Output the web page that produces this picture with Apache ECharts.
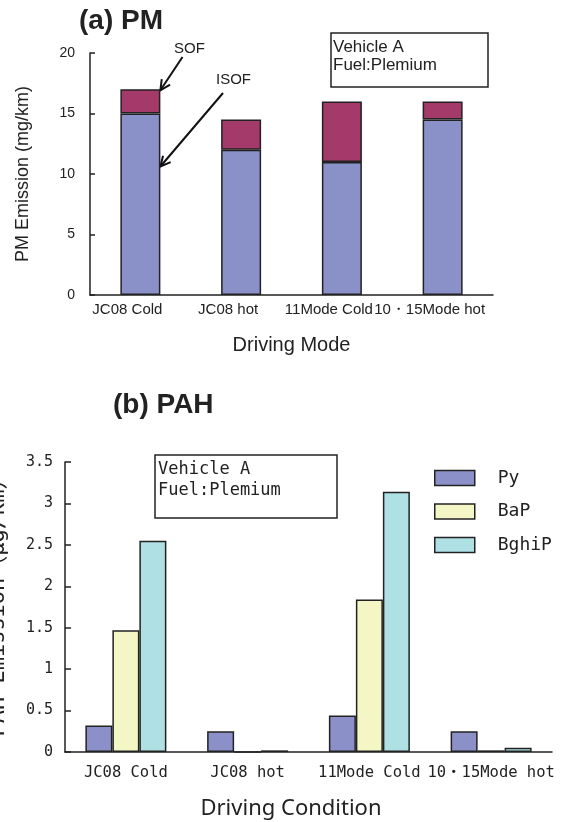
<!DOCTYPE html>
<html>
<head>
<meta charset="utf-8">
<title>PM / PAH Emission</title>
<script src="https://cdn.jsdelivr.net/npm/echarts@6/dist/echarts.min.js"></script>
<style>
  html, body { margin: 0; padding: 0; background: #fff; }
  #chart { width: 566px; height: 822px; }
</style>
</head>
<body>
<div id="chart"></div>
<script>
// (a) PM 数据
const pmModes = ['JC08 Cold', 'JC08 hot', '11Mode Cold', '10・15Mode hot']
const pmIsof = [15, 12, 11, 14.5]
const pmSof = [2, 2.5, 5, 1.5]

// (b) PAH 数据
const pahModes = ['JC08 Cold', 'JC08 hot', '11Mode Cold', '10・15Mode hot']
const pahPy = [0.32, 0.25, 0.44, 0.25]
const pahBaP = [1.47, 0, 1.84, 0.02]
const pahBghiP = [2.55, 0.02, 3.14, 0.05]

const sans = '"Liberation Sans", Arial, sans-serif'
const mono = '"DejaVu Sans Mono", "Noto Sans CJK JP", monospace'
const ink = '#222'

const barBorder = { borderColor: ink, borderWidth: 1.5 }
const axisLineStyle = { color: ink, width: 1.5 }

// 箭头（线 + V 字头）
function arrow(from, to) {
  const dx = to[0] - from[0]
  const dy = to[1] - from[1]
  const len = Math.sqrt(dx * dx + dy * dy)
  const ux = dx / len
  const uy = dy / len
  const hl = 10
  const hw = 5
  const bx = to[0] - ux * hl
  const by = to[1] - uy * hl
  return [
    {
      type: 'line',
      shape: { x1: from[0], y1: from[1], x2: to[0], y2: to[1] },
      style: { stroke: '#111', lineWidth: 2 }
    },
    {
      type: 'polyline',
      shape: { points: [[bx - uy * hw, by + ux * hw], to, [bx + uy * hw, by - ux * hw]] },
      style: { stroke: '#111', lineWidth: 2, fill: null }
    }
  ]
}

const myChart = echarts.init(document.getElementById('chart'), null, { renderer: 'canvas' })

const option = {
  animation: false,
  backgroundColor: '#fff',
  title: [
    { text: '(a) PM', left: 79, top: 7, padding: 0, textStyle: { fontFamily: sans, fontSize: 28, fontWeight: 'bold', color: ink } },
    { text: '(b) PAH', left: 113, top: 391, padding: 0, textStyle: { fontFamily: sans, fontSize: 28, fontWeight: 'bold', color: ink } }
  ],
  grid: [
    { left: 90, top: 53, width: 403, height: 242 },
    { left: 65, top: 462, width: 487, height: 290 }
  ],
  legend: {
    data: ['Py', 'BaP', 'BghiP'],
    orient: 'vertical',
    left: 429,
    top: 464,
    itemWidth: 40,
    itemHeight: 15,
    itemGap: 15.5,
    icon: 'rect',
    itemStyle: { borderColor: ink, borderWidth: 1.5 },
    textStyle: { fontFamily: mono, fontSize: 18, color: ink, padding: [0, 0, 0, 18] }
  },
  xAxis: [
    {
      gridIndex: 0,
      type: 'category',
      data: pmModes,
      axisLine: { lineStyle: axisLineStyle },
      axisTick: { inside: true, length: 5, lineStyle: axisLineStyle },
      axisLabel: { interval: 0, margin: 7, fontFamily: sans, fontSize: 15, color: ink, padding: [0, 26, 0, 0] },
      name: 'Driving Mode',
      nameLocation: 'middle',
      nameGap: 40,
      nameMoveOverlap: false,
      nameTextStyle: { fontFamily: sans, fontSize: 20, color: ink }
    },
    {
      gridIndex: 1,
      type: 'category',
      data: pahModes,
      axisLine: { lineStyle: axisLineStyle },
      axisTick: { inside: true, length: 5, lineStyle: axisLineStyle },
      axisLabel: { interval: 0, margin: 13, fontFamily: mono, fontSize: 15.5, color: ink },
      name: 'Driving Condition',
      nameLocation: 'middle',
      nameGap: 46,
      nameMoveOverlap: false,
      nameTextStyle: { fontFamily: '"Noto Sans", sans-serif', fontSize: 22, color: ink, padding: [0, 35, 0, 0] }
    }
  ],
  yAxis: [
    {
      gridIndex: 0,
      type: 'value',
      min: 0,
      max: 20,
      interval: 5,
      axisLine: { show: true, lineStyle: axisLineStyle },
      axisTick: { show: true, inside: true, length: 5, lineStyle: axisLineStyle },
      splitLine: { show: false },
      axisLabel: { margin: 15, fontFamily: sans, fontSize: 14, color: ink },
      name: 'PM Emission (mg/km)',
      nameLocation: 'middle',
      nameGap: 58,
      nameMoveOverlap: false,
      nameTextStyle: { fontFamily: sans, fontSize: 18, color: ink }
    },
    {
      gridIndex: 1,
      type: 'value',
      min: 0,
      max: 3.5,
      interval: 0.5,
      axisLine: { show: true, lineStyle: axisLineStyle },
      axisTick: { show: true, inside: true, length: 6, lineStyle: axisLineStyle },
      splitLine: { show: false },
      axisLabel: { margin: 12, fontFamily: mono, fontSize: 15, color: ink }
    }
  ],
  series: [
    // PM 堆叠柱
    {
      name: 'ISOF',
      type: 'bar',
      xAxisIndex: 0,
      yAxisIndex: 0,
      stack: 'pm',
      barWidth: 40,
      data: pmIsof,
      itemStyle: { color: '#8a91c8', ...barBorder }
    },
    {
      name: 'SOF',
      type: 'bar',
      xAxisIndex: 0,
      yAxisIndex: 0,
      stack: 'pm',
      barWidth: 40,
      data: pmSof,
      itemStyle: { color: '#a33a6a', ...barBorder }
    },
    // PAH 分组柱
    {
      name: 'Py',
      type: 'bar',
      xAxisIndex: 1,
      yAxisIndex: 1,
      barWidth: 27,
      barGap: '0%',
      data: pahPy,
      itemStyle: { color: '#8b91c8', ...barBorder }
    },
    {
      name: 'BaP',
      type: 'bar',
      xAxisIndex: 1,
      yAxisIndex: 1,
      barWidth: 27,
      barGap: '0%',
      data: pahBaP,
      itemStyle: { color: '#f4f6c6', ...barBorder }
    },
    {
      name: 'BghiP',
      type: 'bar',
      xAxisIndex: 1,
      yAxisIndex: 1,
      barWidth: 27,
      barGap: '0%',
      data: pahBghiP,
      itemStyle: { color: '#aee0e4', ...barBorder }
    }
  ]
}

myChart.setOption(option)

// 注释框 + 箭头
const sofTip = myChart.convertToPixel({ gridIndex: 0 }, [0, pmIsof[0] + pmSof[0]])
const isofTip = myChart.convertToPixel({ gridIndex: 0 }, [0, pmIsof[0]])
const barHalf = 20

myChart.setOption({
  graphic: [
    { type: 'text', left: 174, top: 41, style: { text: 'SOF', fontFamily: sans, fontSize: 15, fill: ink } },
    { type: 'text', left: 216, top: 72, style: { text: 'ISOF', fontFamily: sans, fontSize: 15, fill: ink } },
    ...arrow([182.5, 57], [sofTip[0] + barHalf, sofTip[1] + 1]),
    ...arrow([223, 93], [isofTip[0] + barHalf, isofTip[1] + 53]),
    {
      type: 'rect',
      shape: { x: 331, y: 33, width: 157, height: 54 },
      style: { fill: '#fff', stroke: ink, lineWidth: 1.5 }
    },
    { type: 'text', x: 333, y: 38, style: { text: 'Vehicle A\nFuel:Plemium', fontFamily: sans, fontSize: 17, lineHeight: 18, fill: ink } },
    {
      type: 'rect',
      shape: { x: 155, y: 455, width: 182, height: 63 },
      style: { fill: '#fff', stroke: ink, lineWidth: 1.5 }
    },
    { type: 'text', x: 158, y: 459, style: { text: 'Vehicle A\nFuel:Plemium', fontFamily: mono, fontSize: 17, lineHeight: 21, fill: ink } },
    // 下图 y 轴标题（左侧被裁切）
    {
      type: 'text',
      x: 9,
      y: 602,
      rotation: Math.PI / 2,
      style: { text: 'PAH Emission（μg/km）', fontFamily: mono, fontSize: 22, fill: ink, align: 'center', verticalAlign: 'bottom' }
    }
  ]
})
</script>
</body>
</html>
